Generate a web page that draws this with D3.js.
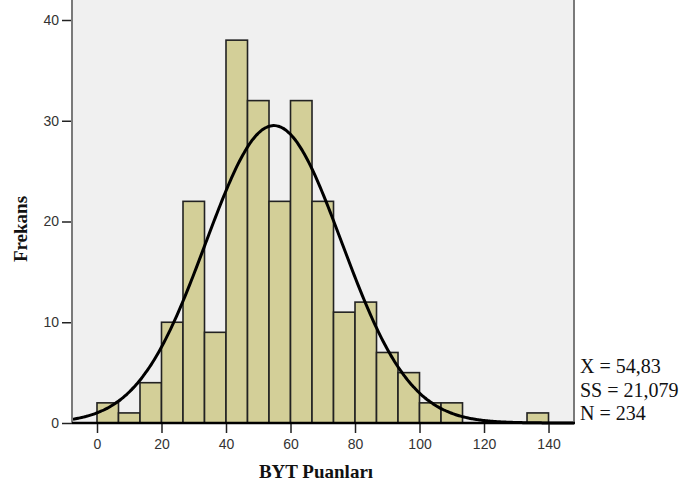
<!DOCTYPE html>
<html lang="en">
	<head>
		<meta charset="utf-8">
		<title>BYT Puanları histogram</title>
		<script type="text/javascript" src="https://d3js.org/d3.v7.min.js"></script>
		<style type="text/css">
			body { margin: 0; background: #fff; }
			.tick text { font: 14px "Liberation Sans", Arial, sans-serif; fill: #333; }
		</style>
	</head>
	<body>
		<script type="text/javascript">

			// bins of width 140/21, from 0 to 140
			var binStart = 0;
			var binWidth = 140 / 21;
			var counts = [2, 1, 4, 10, 22, 9, 38, 32, 22, 32, 22, 11, 12, 7, 5, 2, 2, 0, 0, 0, 1];
			var xTicks = [0, 20, 40, 60, 80, 100, 120, 140];
			var yTicks = [0, 10, 20, 30, 40];
			var mean = 54.83, sd = 21.079, n = 234;
			var statLines = ["X = 54,83", "SS = 21,079", "N = 234"];

			var w = 683, h = 490;
			var left = 72, right = 574, bottom = 423;

			var svg = d3.select("body").append("svg")
				.attr("width", w)
				.attr("height", h);

			var x = d3.scaleLinear().domain([-7.75, 147.9]).range([left, right]);
			var y = d3.scaleLinear().domain([0, 40]).range([bottom, 20]);

			// plot background
			svg.append("rect")
				.attr("x", left).attr("y", -5)
				.attr("width", right - left).attr("height", bottom + 5)
				.attr("fill", "#f0f0f0");

			// bars (empty bins are skipped)
			var bins = counts.map(function(c, i) {
				return { x0: binStart + i * binWidth, x1: binStart + (i + 1) * binWidth, count: c };
			}).filter(function(b) { return b.count > 0; });

			svg.selectAll("rect.bar")
				.data(bins)
				.enter()
				.append("rect")
				.attr("class", "bar")
				.attr("x", function(d) { return x(d.x0); })
				.attr("y", function(d) { return y(d.count); })
				.attr("width", function(d) { return x(d.x1) - x(d.x0); })
				.attr("height", function(d) { return y(0) - y(d.count); })
				.attr("fill", "#d3cf98")
				.attr("stroke", "#222")
				.attr("stroke-width", 1.6);

			// normal curve
			var pts = d3.range(-7.75, 147.9, 0.5).concat([147.9]);
			var curve = d3.line()
				.x(function(d) { return x(d); })
				.y(function(d) {
					var z = (d - mean) / sd;
					return y(n * binWidth * Math.exp(-0.5 * z * z) / (sd * Math.sqrt(2 * Math.PI)));
				})
				.curve(d3.curveBasis);
			svg.append("path")
				.attr("d", curve(pts))
				.attr("fill", "none")
				.attr("stroke", "#000")
				.attr("stroke-width", 3);

			// right frame
			svg.append("line")
				.attr("x1", right).attr("x2", right)
				.attr("y1", -5).attr("y2", bottom)
				.attr("stroke", "#7a7a7a").attr("stroke-width", 2);

			// axes
			var yAxis = svg.append("g")
				.attr("transform", "translate(" + left + ",0)")
				.call(d3.axisLeft(y).tickValues(yTicks).tickSize(10).tickPadding(3));
			yAxis.select(".domain").remove();
			yAxis.selectAll(".tick line").attr("stroke", "#222").attr("stroke-width", 1.5);
			svg.append("line")
				.attr("x1", left).attr("x2", left)
				.attr("y1", -5).attr("y2", bottom)
				.attr("stroke", "#7a7a7a").attr("stroke-width", 2);

			var xAxis = svg.append("g")
				.attr("transform", "translate(0," + bottom + ")")
				.call(d3.axisBottom(x).tickValues(xTicks).tickSize(10).tickPadding(6));
			xAxis.select(".domain").remove();
			xAxis.selectAll(".tick line").attr("stroke", "#222").attr("stroke-width", 1.5);
			svg.append("line")
				.attr("x1", left).attr("x2", right + 1)
				.attr("y1", bottom).attr("y2", bottom)
				.attr("stroke", "#000").attr("stroke-width", 2.5);

			// titles
			svg.append("text")
				.attr("x", 316).attr("y", 478)
				.attr("text-anchor", "middle")
				.style("font", "bold 19px 'Liberation Serif', 'Times New Roman', serif")
				.style("fill", "#111")
				.text("BYT Puanları");

			svg.append("text")
				.attr("transform", "translate(27,229) rotate(-90)")
				.attr("text-anchor", "middle")
				.style("font", "bold 19px 'Liberation Serif', 'Times New Roman', serif")
				.style("fill", "#111")
				.text("Frekans");

			svg.selectAll("text.stat")
				.data(statLines)
				.enter()
				.append("text")
				.attr("class", "stat")
				.attr("x", 580)
				.attr("y", function(d, i) { return 373 + i * 23.5; })
				.style("font", "20px 'Liberation Serif', 'Times New Roman', serif")
				.style("fill", "#111")
				.text(function(d) { return d; });
		</script>
	</body>
</html>
